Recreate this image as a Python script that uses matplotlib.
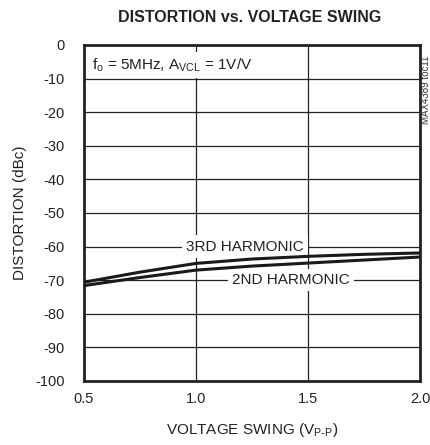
import matplotlib.pyplot as plt

plt.rcParams['font.family'] = ['Liberation Sans', 'DejaVu Sans']

# data
swing = [0.5, 0.75, 1.0, 1.25, 1.5, 1.75, 2.0]
harm3 = [-70.6, -67.6, -65.0, -63.7, -62.9, -62.3, -61.9]
harm2 = [-71.6, -69.2, -67.0, -65.8, -64.9, -64.0, -63.1]

xticks = [0.5, 1.0, 1.5, 2.0]
yticks = list(range(0, -101, -10))

fig = plt.figure(figsize=(4.31, 4.45), dpi=100)
ax = fig.add_axes([84 / 431, 1 - 381 / 445, 336 / 431, 336 / 445])

ax.plot(swing, harm3, color='#1a1a1a', lw=2.2, zorder=3)
ax.plot(swing, harm2, color='#1a1a1a', lw=2.2, zorder=3)

ax.set_xlim(0.5, 2.0)
ax.set_ylim(-100, 0)
ax.set_xticks(xticks)
ax.set_xticklabels(['%.1f' % v for v in xticks])
ax.set_yticks(yticks)
ax.set_yticklabels([str(v) for v in yticks])
ax.tick_params(length=0, labelsize=10.5, colors='#222222')
ax.tick_params(axis='y', pad=14)
ax.tick_params(axis='x', pad=8)
ax.grid(True, color='#222222', lw=0.9)
ax.set_axisbelow(True)
for s in ax.spines.values():
    s.set_linewidth(2)
    s.set_color('#222222')

box = dict(facecolor='white', edgecolor='none', pad=3)
ax.text(0.536, -6, r'f$_\mathregular{o}$ = 5MHz, A$_\mathregular{VCL}$ = 1V/V',
        fontsize=11, va='center', ha='left', bbox=box, zorder=2, color='#222222')
ax.text(1.22, -60, '3RD HARMONIC', fontsize=11, ha='center', va='center',
        bbox=box, zorder=2, color='#222222')
ax.text(1.424, -70, '2ND HARMONIC', fontsize=11, ha='center', va='center',
        bbox=box, zorder=2, color='#222222')

ax.set_xlabel(r'VOLTAGE SWING (V$_\mathregular{P\text{-}P}$)', fontsize=11,
              labelpad=11, color='#222222')
ax.set_ylabel('DISTORTION (dBc)', fontsize=11, labelpad=6, color='#222222')
fig.text(250 / 431, 1 - 18 / 445, 'DISTORTION vs. VOLTAGE SWING',
         fontsize=11.5, fontweight='bold', ha='center', va='center',
         color='#222222')
fig.text(426 / 431, 1 - 90 / 445, 'MAX4389 toc11', fontsize=7,
         rotation=90, ha='center', va='center', color='#333333')

fig.savefig('out.png', dpi=100)
